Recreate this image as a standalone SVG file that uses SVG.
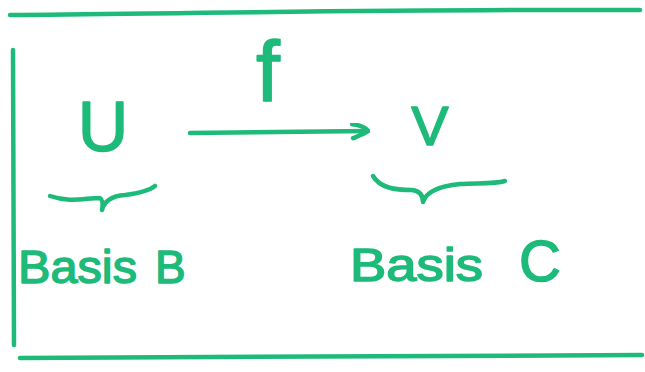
<svg xmlns="http://www.w3.org/2000/svg" width="645" height="372" viewBox="0 0 645 372">
<style>
.ink{fill:none;stroke:#1dba7a;stroke-width:4.5;stroke-linecap:round;stroke-linejoin:round}
.t{fill:#1dba7a;stroke:#1dba7a;stroke-width:1.5;stroke-linejoin:round;font-family:"Liberation Sans","DejaVu Sans",sans-serif}
</style>
<defs>
<marker id="hook" viewBox="0 0 20 20" refX="18" refY="8" markerWidth="20" markerHeight="20" markerUnits="userSpaceOnUse" orient="auto">
<path d="M2,1 C10,2 16,5 18,8 C14,11 8,13 3,15" fill="none" stroke="#1dba7a" stroke-width="4.5" stroke-linecap="round"/>
</marker>
</defs>
<rect width="645" height="372" fill="#ffffff"/>
<g id="frame">
<path class="ink" d="M10,15 C200,13 450,9 640,10"/>
<path class="ink" d="M20,358 C250,357 450,356 642,355"/>
<path class="ink" d="M13,50 L14,345"/>
</g>
<g id="node-U"><text class="t" x="103" y="151" font-size="70" text-anchor="middle">U</text></g>
<g id="node-V"><text class="t" x="430" y="145" font-size="56" text-anchor="middle">V</text></g>
<g id="label-f"><text class="t" x="268" y="101" font-size="86" text-anchor="middle">f</text></g>
<g id="basis-B"><text class="t" y="283" font-size="46"><tspan x="18" textLength="119" lengthAdjust="spacingAndGlyphs">Basis</tspan><tspan x="155">B</tspan></text></g>
<g id="basis-C"><text class="t" y="281" font-size="46"><tspan x="350" textLength="133" lengthAdjust="spacingAndGlyphs">Basis</tspan><tspan x="519" font-size="58">C</tspan></text></g>
<g id="connectors">
<path class="ink" d="M190,133 L368,131" marker-end="url(#hook)"/>
<path class="ink" d="M50,196 C70,203 85,198 100,198 C103,200 103,205 102,210 C104,202 110,196 125,195 C140,193 150,190 155,186"/>
<path class="ink" d="M373,176 C380,188 395,190 412,190 C420,191 423,196 423,202 C426,192 440,186 460,184 C480,183 495,184 505,181"/>
</g>
</svg>
